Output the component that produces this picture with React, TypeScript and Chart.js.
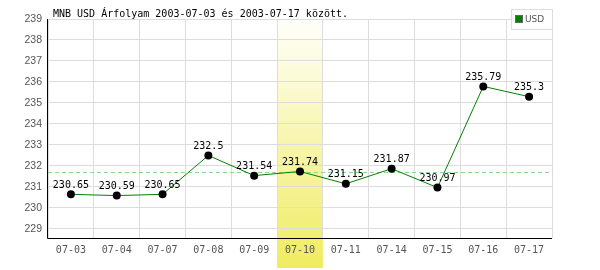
import React, { useEffect, useRef } from "react";
import { Chart, registerables } from "chart.js";

Chart.register(...registerables);

const titleText = "MNB USD Árfolyam 2003-07-03 és 2003-07-17 között.";
const seriesName = "USD";
const categories = ["07-03", "07-04", "07-07", "07-08", "07-09", "07-10", "07-11", "07-14", "07-15", "07-16", "07-17"];
const values = [230.65, 230.59, 230.65, 232.5, 231.54, 231.74, 231.15, 231.87, 230.97, 235.79, 235.3];
const valueLabels = ["230.65", "230.59", "230.65", "232.5", "231.54", "231.74", "231.15", "231.87", "230.97", "235.79", "235.3"];
const yTicks = [229, 230, 231, 232, 233, 234, 235, 236, 237, 238, 239];
const averageValue = 231.72;
const highlightIndex = 5;
const yMin = 228.57;
const yMax = 239;

const MONO = "'DejaVu Sans Mono', monospace";

const customPlugin = {
  id: "custom",
  beforeDraw(chart: any) {
    const { ctx, chartArea, scales } = chart;
    const x = scales.x;
    const w = x.getPixelForValue(1) - x.getPixelForValue(0);
    const cx = x.getPixelForValue(highlightIndex);
    const bottom = chart.height - 2;
    const g = ctx.createLinearGradient(0, chartArea.top, 0, bottom);
    g.addColorStop(0, "rgba(255,255,250,1)");
    g.addColorStop(1, "rgba(240,236,96,1)");
    ctx.save();
    ctx.fillStyle = g;
    ctx.fillRect(cx - w / 2, chartArea.top, w, bottom - chartArea.top);
    ctx.restore();
  },
  beforeDatasetsDraw(chart: any) {
    const { ctx, chartArea, scales } = chart;
    const y = scales.y.getPixelForValue(averageValue);
    ctx.save();
    ctx.strokeStyle = "#8fd48f";
    ctx.lineWidth = 1;
    ctx.setLineDash([4, 3]);
    ctx.beginPath();
    ctx.moveTo(chartArea.left, Math.round(y) + 0.5);
    ctx.lineTo(chartArea.right, Math.round(y) + 0.5);
    ctx.stroke();
    ctx.restore();
  },
  afterDraw(chart: any) {
    const { ctx, chartArea } = chart;
    const meta = chart.getDatasetMeta(0);
    ctx.save();
    // axes lines
    ctx.strokeStyle = "#000";
    ctx.lineWidth = 1;
    ctx.beginPath();
    ctx.moveTo(Math.round(chartArea.left) - 0.5, chartArea.top);
    ctx.lineTo(Math.round(chartArea.left) - 0.5, Math.round(chartArea.bottom) + 0.5);
    ctx.lineTo(chartArea.right, Math.round(chartArea.bottom) + 0.5);
    ctx.stroke();
    // value labels
    ctx.fillStyle = "#000";
    ctx.font = "10px " + MONO;
    ctx.textAlign = "center";
    ctx.textBaseline = "bottom";
    meta.data.forEach((p: any, i: number) => {
      ctx.fillText(valueLabels[i], p.x, p.y - 4);
    });
    // title
    ctx.textAlign = "left";
    ctx.textBaseline = "alphabetic";
    ctx.font = "10px " + MONO;
    ctx.fillText(titleText, 53, 17);
    // legend
    const lx = 511, ly = 9, lw = 41, lh = 20;
    ctx.fillStyle = "#fff";
    ctx.fillRect(lx, ly, lw, lh);
    ctx.strokeStyle = "#ddd";
    ctx.strokeRect(lx + 0.5, ly + 0.5, lw, lh);
    ctx.fillStyle = "#666";
    ctx.fillRect(515, 15, 8, 8);
    ctx.fillStyle = "#008000";
    ctx.fillRect(516, 16, 6, 6);
    ctx.fillStyle = "#555";
    ctx.font = "9px 'DejaVu Sans', sans-serif";
    ctx.textBaseline = "middle";
    ctx.fillText(seriesName, 525, 19.5);
    ctx.restore();
  },
};

export default function App() {
  const ref = useRef<HTMLCanvasElement>(null);
  useEffect(() => {
    document.body.style.margin = "0";
    const chart = new Chart(ref.current as HTMLCanvasElement, {
      type: "line",
      data: {
        labels: categories,
        datasets: [
          {
            label: seriesName,
            data: values,
            borderColor: "#008000",
            borderWidth: 1,
            pointRadius: 4,
            pointBackgroundColor: "#000",
            pointBorderColor: "#000",
            pointBorderWidth: 0,
            tension: 0,
          },
        ],
      },
      options: {
        animation: false,
        responsive: false,
        maintainAspectRatio: false,
        layout: { padding: { top: 19, right: 48, left: 0, bottom: 0 } },
        plugins: { legend: { display: false }, title: { display: false }, tooltip: { enabled: false } },
        scales: {
          x: {
            type: "category",
            offset: true,
            grid: { offset: true, color: "#dddddd", drawTicks: false },
            border: { display: false },
            ticks: { color: "#555", font: { family: MONO, size: 10 }, padding: 6, maxRotation: 0 },
            afterFit(s: any) { s.height = 32; },
          },
          y: {
            min: yMin,
            max: yMax,
            grid: { color: "#dddddd", drawTicks: false },
            border: { display: false },
            afterBuildTicks(s: any) { s.ticks = yTicks.map((v) => ({ value: v })); },
            ticks: { color: "#555", font: { family: "'Liberation Sans', Arial, sans-serif", size: 10.5 }, padding: 6, callback: (v: any) => String(v) },
            afterFit(s: any) { s.width = 48; },
          },
        },
      },
      plugins: [customPlugin],
    });
    return () => chart.destroy();
  }, []);
  return (
    <div style={{ width: 600, height: 270 }}>
      <canvas ref={ref} width={600} height={270} style={{ display: "block" }} />
    </div>
  );
}
